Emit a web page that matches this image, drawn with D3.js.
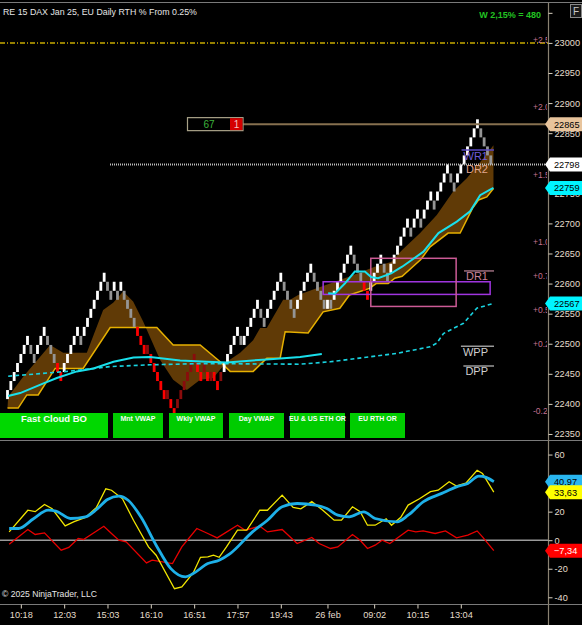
<!DOCTYPE html>
<html>
<head>
<meta charset="utf-8">
<script src="https://cdn.jsdelivr.net/npm/d3@7"></script>
<style>
  body { margin: 0; background: #000; }
  svg { display: block; font-family: "Liberation Sans", Arial, sans-serif; }
</style>
</head>
<body>
<svg id="chart" width="582" height="625"></svg>
<script>
// ---- data ----
const brickSize = 15;
const brickCloses = [
  22423,22438,22453,22468,22483,22498,22513, 22483,22468, 22498,22513,22528,
  22498,22483,22468,22453,22438,
  22468,22483,22498,22513,22528,22498,22528,22543,22558,22573,22588,22603,22618,
  22588,22573,22603,22573,22603,22573,22558,22543,22528,
  22513,22498,22483,22498,22468,22453,22438,22423,22408,22423,22393,22378,
  22408,22423,22438,22453,22468,22483,
  22453,22438,22468,22438,22453,22438,22423,22453,22468,22483,22498,22513,22528,
  22498,22513,22528,22543,22558,22573,22543,22528,22558,22573,22588,22603,22618,
  22588,22573,22558,22543,22573,22588,22603,22618,22633,
  22603,22588,22573,22558,22573,22558,22588,22603,22618,22633,22648,22663,
  22633,22618,22603,22588,22573,22603,22618,22633,22648,22618,22603,22633,22648,22663,22678,
  22693,22708,22678,22708,22723,22693,22723,22738,22753,22723,22753,22768,22783,22798,
  22768,22753,22783,22798,22813,22828,22843,22858,22873,22843,22828,22813,22798
];
// [bar, price]
const cloudSlow = [[0,22393],[3.2,22393],[5.8,22415],[9.2,22415],[14.3,22459],[22.7,22459],[30.8,22527],
  [44.8,22527],[49.7,22498],[57.8,22498],[63.8,22470],[66.8,22454],[73.7,22454],[77.8,22476],[81.8,22476],
  [83.3,22520],[90.2,22518],[94.7,22553],[99.7,22559],[102.6,22581],[108.6,22592],[110.6,22600],[114.2,22600],
  [116.2,22609],[118.4,22612],[124,22640],[126.8,22661],[132.2,22684],[135.8,22684],[139.5,22725],
  [141.3,22739],[143.8,22744],[145.8,22758]];
const cloudFast = [[0.2,22412],[4.7,22445],[12.8,22498],[16.7,22485],[23.8,22485],[28.7,22556],[31.7,22568],
  [34.7,22587],[37.7,22570],[40.7,22537],[45.8,22473],[49.7,22440],[53.8,22423],[57.8,22440],[61.7,22443],
  [65.8,22470],[69.8,22485],[73.7,22506],[75.8,22526],[77.8,22526],[82.7,22573],[84.8,22573],[87.2,22581],
  [91.1,22589],[102.2,22611],[110.2,22628],[115.1,22636],[118.4,22656],[123.8,22684],[128.8,22714],
  [133.7,22753],[137.8,22775],[142.7,22808],[145.8,22830]];
const vwapSession = [[0.2,22413],[3.8,22418],[10.8,22434],[14.8,22443],[20.8,22454],[25.8,22459],[31.8,22470],
  [37.8,22477],[42.8,22478],[51.8,22472],[59.8,22470],[65.8,22469],[77.8,22474],[87.8,22478],[94.3,22483]];
const vwapWeekly = [[0.2,22446],[17.8,22454],[30.8,22462],[42.8,22465],[57.8,22467],[87.8,22466],[96.8,22470],
  [116.8,22484],[126.8,22495],[128.8,22501],[130.8,22517],[136.8,22534],[140.8,22559],[145.8,22567]];
const vwapDay = [[96.2,22584],[98.2,22583],[101.2,22600],[104.2,22620],[107.2,22620],[109.1,22611],[111.2,22609],
  [115.1,22617],[118.4,22628],[124.8,22653],[129.3,22684],[134.8,22703],[138.8,22720],[141.8,22747],
  [144.8,22756],[145.8,22759]];

const priceTicks = [23050,23000,22950,22900,22850,22800,22750,22700,22650,22600,22550,22500,22450,22400,22350];
const highLevel = 22865;
const tradeBox = ["67", "1"];
const weeklyTarget = 23000;
const pctBase = 22444;
const pctLevels = [2.5, 2, 1.5, 1, 0.75, 0.5, 0.25, -0.25];
const pivotNames = ["WR1", "DR2", "DR1", "WPP", "DPP"];
const pivotPrices = [22822, 22800, 22621, 22496, 22463];
// [fromBar, toBar, low, high]
const purpleZone = [94.7, 144.8, 22582, 22603];
const pinkZone = [109, 134.6, 22562, 22642];
const buttonNames = ["Fast Cloud BO", "Mnt VWAP", "Wkly VWAP", "Day VWAP", "EU & US ETH OR", "EU RTH OR"];

// oscillator panel [bar, value]
const oscYellow = [[0.5,5.8],[6.1,21],[8.3,20],[11.1,25],[13.4,22],[17.3,10],[20,13],[23.4,16],[26.7,23],
  [29.5,36],[31.2,35],[34.5,29],[37.8,14],[42.3,-4.7],[44.6,-10.5],[50.1,-34],[52.3,-32.7],[55.7,-23],
  [57.9,-12],[60.1,-11.7],[61.8,-10.5],[63.5,-12],[65.7,-4.7],[69,7],[71.8,7],[75.7,21],[78,21],[82.4,31.6],
  [85.7,23],[88,22],[91.3,27],[94.6,21],[98,14],[100.2,14],[103.5,23.4],[105.8,20],[108,10.5],[110.3,10.5],
  [113.6,15],[115.2,10.5],[118,16],[120.2,24.6],[123.6,29],[126.9,34],[129.2,35],[132.5,41],[134.7,38],
  [137.5,40],[140.9,49],[142.5,46.8],[145.9,33.63]];
const oscBlue = [[0.5,8.2],[3.3,8.2],[7.8,15],[12.2,21],[14.5,20.4],[18.9,15.2],[23.4,16.4],[26.7,21.5],
  [30,28.5],[33.4,30.9],[36.2,28],[40,16.4],[44.6,-3.5],[49,-19.9],[53.4,-25.7],[55.7,-23.4],[60.1,-16.4],
  [63.5,-14],[66.8,-9.4],[73.5,5.8],[78,14],[82.4,23.4],[86.9,25.7],[92.4,24.6],[95.8,22.2],[99.1,17.5],
  [102.5,16.4],[106.9,19.9],[110.3,15.2],[116.9,12.9],[120.2,17.5],[124.7,26.9],[130.3,32.8],[134.7,37.4],
  [138.1,39.8],[141.4,44.9],[143.6,44],[145.9,40.97]];
const oscRed = [[0.5,-2.8],[6.1,7.5],[8.3,4],[11.1,5.1],[16.1,-7],[18.4,-5.1],[21.2,1.2],[22.8,0.5],[28.9,9.8],
  [31.2,4.7],[33.4,0],[35.6,-1.2],[41.7,-15.9],[43.4,-14],[49.5,-16.4],[52.3,-4.7],[56.8,8.2],[60.1,4.7],
  [62.9,1.6],[69,10.5],[71.3,7],[75.7,9.8],[78,5.8],[82.4,7.5],[86.9,-2.3],[91.3,1.9],[93.5,-2.3],[96.9,-5.8],
  [99.1,-4.7],[103.5,4],[105.8,0],[108,-5.8],[110.3,-3.5],[112.4,0],[114.7,-2.3],[120.2,7],[122.5,5.8],
  [124.7,6.5],[128.3,4.7],[131.4,6.5],[134.7,1.6],[138.1,3.5],[140.9,6.5],[142.5,2.3],[145.9,-7.34]];
const oscTicks = [60, 40, 20, 0, -20, -40];

const timeBars = [4, 17, 30, 43, 56, 69, 82, 96, 110, 123, 136];
const timeLabels = ["10:18","12:03","15:03","16:10","16:51","17:57","19:43","26 feb","09:02","10:15","13:04"];

// ---- layout ----
const W = 582, H = 625, axisX = 548;
const x = d3.scaleLinear().domain([0, 145]).range([7.5, 490.8]);
const y = d3.scaleLinear().domain([22340, 23068]).range([440, 2]);
const oy = d3.scaleLinear().domain([-44, 69.5]).range([603, 441]);
const buttonBoxes = [[0,108],[113,163],[169,223],[229,284],[290,345],[350,405]];
const axisFont = 9.2;

const svg = d3.select("#chart");
svg.append("rect").attr("width", W).attr("height", H).attr("fill", "#000");

const defs = svg.append("defs");
defs.append("clipPath").attr("id", "plotClip").append("rect")
  .attr("x", 0).attr("y", 3).attr("width", axisX).attr("height", 437);
defs.append("clipPath").attr("id", "pctClip").append("rect")
  .attr("x", 0).attr("y", 0).attr("width", axisX - 1).attr("height", 440);
defs.append("clipPath").attr("id", "oscClip").append("rect")
  .attr("x", 0).attr("y", 441).attr("width", axisX).attr("height", 162);

const line = d3.line().x(d => x(d[0])).y(d => y(d[1]));

// frame lines
[2.5, 440.5, 604.5].forEach(yy => {
  svg.append("line").attr("x1", 0).attr("x2", W).attr("y1", yy).attr("y2", yy)
    .attr("stroke", "#7a7a7a").attr("stroke-width", 1);
});

const plot = svg.append("g").attr("clip-path", "url(#plotClip)");

// weekly target line
plot.append("line").attr("x1", 0).attr("x2", axisX)
  .attr("y1", y(weeklyTarget)).attr("y2", y(weeklyTarget))
  .attr("stroke", "#c8aa00").attr("stroke-width", 1.5).attr("stroke-dasharray", "5,2,1,2");

// cloud
const cloudPath = line(cloudFast) + "L" + line(cloudSlow.slice().reverse()).slice(1) + "Z";
plot.append("path").attr("d", cloudPath).attr("fill", "#603a06").attr("stroke", "none");
plot.append("path").attr("d", line(cloudSlow)).attr("fill", "none")
  .attr("stroke", "#e6b000").attr("stroke-width", 1.5);

// renko bricks
const slowAt = b => {
  const i = d3.bisector(d => d[0]).left(cloudSlow, b);
  if (i <= 0) return cloudSlow[0][1];
  if (i >= cloudSlow.length) return cloudSlow[cloudSlow.length - 1][1];
  const a = cloudSlow[i - 1], c = cloudSlow[i];
  return a[1] + (c[1] - a[1]) * (b - a[0]) / (c[0] - a[0]);
};
const bricks = brickCloses.map((c, i) => {
  const prev = i === 0 ? c - brickSize : brickCloses[i - 1];
  const dir = c > prev ? 1 : -1;
  const open = c - dir * brickSize;
  const ref = slowAt(i);
  let color;
  if (dir > 0) color = c > ref ? "#ffffff" : "#8a0c0c";
  else color = c >= ref ? "#959595" : "#ff0000";
  return { i, open, close: c, color };
});
plot.selectAll("rect.brick").data(bricks).join("rect")
  .attr("class", "brick")
  .attr("x", d => x(d.i) - 1.4)
  .attr("width", 2.8)
  .attr("y", d => y(Math.max(d.open, d.close)))
  .attr("height", d => Math.abs(y(d.open) - y(d.close)))
  .attr("fill", d => d.color);

// zones
[[purpleZone, "#a035e0"], [pinkZone, "#cc5b96"]].forEach(([z, col]) => {
  plot.append("rect")
    .attr("x", x(z[0])).attr("width", x(z[1]) - x(z[0]))
    .attr("y", y(z[3])).attr("height", y(z[2]) - y(z[3]))
    .attr("fill", "none").attr("stroke", col).attr("stroke-width", 1.5);
});

// vwaps
plot.append("path").attr("d", line(vwapWeekly)).attr("fill", "none")
  .attr("stroke", "#19d3e0").attr("stroke-width", 1.6).attr("stroke-dasharray", "4,3");
plot.append("path").attr("d", line(vwapSession)).attr("fill", "none")
  .attr("stroke", "#19e0ec").attr("stroke-width", 2);
plot.append("path").attr("d", line(vwapDay)).attr("fill", "none")
  .attr("stroke", "#19e0ec").attr("stroke-width", 2);

// percent levels, cut at the axis like the platform does
const pctG = svg.append("g").attr("clip-path", "url(#pctClip)");
pctLevels.forEach(p => {
  pctG.append("text").attr("x", 533).attr("y", y(pctBase * (1 + p / 100)))
    .attr("dy", "0.35em").attr("font-size", 8.5).attr("fill", "#c2708f")
    .text(((p > 0 ? "+" : "") + p.toFixed(2)).slice(0, 4));
});

// last price dotted line
const lastClose = brickCloses[brickCloses.length - 1];
plot.append("line").attr("x1", 110).attr("x2", axisX)
  .attr("y1", y(lastClose)).attr("y2", y(lastClose))
  .attr("stroke", "#bdbdbd").attr("stroke-width", 2).attr("stroke-dasharray", "1,1");

// pivots
const pivotStyle = {
  WR1: ["#6f5bd6", "#5a48c0"], DR2: ["#e2a68c", null], DR1: ["#c98399", "#9a6c7c"],
  WPP: ["#cfcfcf", "#9a9a9a"], DPP: ["#cfcfcf", "#9a9a9a"]
};
pivotNames.forEach((name, k) => {
  const py = y(pivotPrices[k]);
  const [tc, lc] = pivotStyle[name];
  const t = plot.append("text").attr("x", 488).attr("y", py + 9.5)
    .attr("text-anchor", "end").attr("font-size", 11).attr("fill", tc).text(name);
  const len = t.node().getComputedTextLength();
  if (lc) {
    plot.append("line").attr("x1", 487 - len - 1).attr("x2", 494)
      .attr("y1", py).attr("y2", py).attr("stroke", lc).attr("stroke-width", 1.5);
  }
});

// high level line + trade box
const hy = y(highLevel);
plot.append("line").attr("x1", 243).attr("x2", axisX).attr("y1", hy).attr("y2", hy)
  .attr("stroke", "#86704f").attr("stroke-width", 2);
svg.append("rect").attr("x", 187.5).attr("y", hy - 6.5).attr("width", 55.5).attr("height", 13)
  .attr("fill", "#000").attr("stroke", "#a8a288").attr("stroke-width", 1.2);
svg.append("rect").attr("x", 230).attr("y", hy - 6).attr("width", 12.5).attr("height", 12)
  .attr("fill", "#d40000");
svg.append("text").attr("x", 209).attr("y", hy + 4).attr("text-anchor", "middle")
  .attr("font-size", 10).attr("fill", "#3cb43c").text(tradeBox[0]);
svg.append("text").attr("x", 236.5).attr("y", hy + 4).attr("text-anchor", "middle")
  .attr("font-size", 10).attr("fill", "#f3c0c0").text(tradeBox[1]);

// buttons
buttonNames.forEach((name, k) => {
  const [x0, x1] = buttonBoxes[k];
  svg.append("rect").attr("x", x0).attr("y", 413).attr("width", x1 - x0).attr("height", 25)
    .attr("fill", k === 0 ? "#00d800" : "#00cc00");
  svg.append("text").attr("x", (x0 + x1) / 2).attr("y", k === 0 ? 421.5 : 420.5)
    .attr("text-anchor", "middle").attr("font-size", k === 0 ? 9.5 : 7)
    .attr("font-weight", "bold").attr("fill", "#f4fff4").text(name);
});

// titles
svg.append("text").attr("x", 3).attr("y", 15).attr("font-size", 8.8).attr("fill", "#e6e6e6")
  .text("RE 15 DAX Jan 25, EU Daily RTH % From 0.25%");
svg.append("text").attr("x", 541).attr("y", 18).attr("text-anchor", "end").attr("font-size", 9)
  .attr("font-weight", "bold").attr("fill", "#22c322").text("W 2,15% = 480");
svg.append("rect").attr("x", 570.5).attr("y", 4.5).attr("width", 11).attr("height", 13)
  .attr("fill", "#1a1a1a").attr("stroke", "#8a8a8a");
svg.append("text").attr("x", 573).attr("y", 15).attr("font-size", 10).attr("fill", "#c8c8c8").text("F");

// axes
svg.append("line").attr("x1", axisX + 0.5).attr("x2", axisX + 0.5).attr("y1", 3).attr("y2", 625)
  .attr("stroke", "#8a8272").attr("stroke-width", 1.2);
const styleAxis = g => {
  g.select(".domain").remove();
  g.selectAll(".tick line").attr("stroke", "#d8d0c0");
  g.selectAll(".tick text").attr("fill", "#e4ddcc").attr("font-size", axisFont)
    .attr("font-family", "Liberation Sans, Arial, sans-serif");
};
// labels that sit fully under a value marker are not shown
const hiddenPrice = [23050, 22800];
const hiddenOsc = [40];
svg.append("g").attr("transform", `translate(${axisX + 0.5},0)`)
  .call(d3.axisRight(y).tickValues(priceTicks).tickSize(4).tickPadding(2)
    .tickFormat(d => hiddenPrice.includes(d) ? "" : d3.format("d")(d)))
  .call(styleAxis);
svg.append("g").attr("transform", `translate(${axisX + 0.5},0)`)
  .call(d3.axisRight(oy).tickValues(oscTicks).tickSize(4).tickPadding(2)
    .tickFormat(d => hiddenOsc.includes(d) ? "" : d))
  .call(styleAxis);
svg.append("g").attr("transform", "translate(0,604.5)")
  .call(d3.axisBottom(x).tickValues(timeBars).tickSize(4).tickPadding(3)
    .tickFormat((d, i) => timeLabels[i]))
  .call(styleAxis);

// value markers on the axis
const marker = (yy, txt, bg, fg) => {
  const x0 = axisX - 3;
  svg.append("path")
    .attr("d", `M${x0},${yy} L${x0 + 5},${yy - 7} L${W},${yy - 7} L${W},${yy + 7} L${x0 + 5},${yy + 7} Z`)
    .attr("fill", bg);
  svg.append("text").attr("x", 554).attr("y", yy + 3.5).attr("font-size", axisFont).attr("fill", fg).text(txt);
};
const lastOf = arr => arr[arr.length - 1][1];
marker(y(highLevel), String(highLevel), "#e8c49c", "#000");
marker(y(lastClose), String(lastClose), "#ffffff", "#000");
marker(y(lastOf(vwapDay)), String(lastOf(vwapDay)), "#00f4ff", "#000");
marker(y(lastOf(vwapWeekly)), String(lastOf(vwapWeekly)), "#00f4ff", "#000");
const comma = v => d3.format(".2f")(v).replace(".", ",");
marker(oy(lastOf(oscBlue)), comma(lastOf(oscBlue)), "#29b6f0", "#000");
marker(oy(lastOf(oscYellow)), comma(lastOf(oscYellow)), "#ffff00", "#000");
marker(oy(lastOf(oscRed)), comma(lastOf(oscRed)), "#ff0000", "#fff");

// oscillator panel
const osc = svg.append("g").attr("clip-path", "url(#oscClip)");
const oline = d3.line().x(d => x(d[0])).y(d => oy(d[1]));
osc.append("line").attr("x1", 0).attr("x2", axisX).attr("y1", oy(0)).attr("y2", oy(0))
  .attr("stroke", "#9a9a9a").attr("stroke-width", 1.5);
osc.append("path").attr("d", oline(oscRed)).attr("fill", "none")
  .attr("stroke", "#e80000").attr("stroke-width", 1.3);
osc.append("path").attr("d", oline(oscYellow)).attr("fill", "none")
  .attr("stroke", "#f2e600").attr("stroke-width", 1.3);
osc.append("path").attr("d", oline.curve(d3.curveMonotoneX)(oscBlue)).attr("fill", "none")
  .attr("stroke", "#1eb0e8").attr("stroke-width", 2.8);
svg.append("text").attr("x", 2).attr("y", 597).attr("font-size", 8.6).attr("fill", "#e6e6e6")
  .text("© 2025 NinjaTrader, LLC");
</script>
</body>
</html>
